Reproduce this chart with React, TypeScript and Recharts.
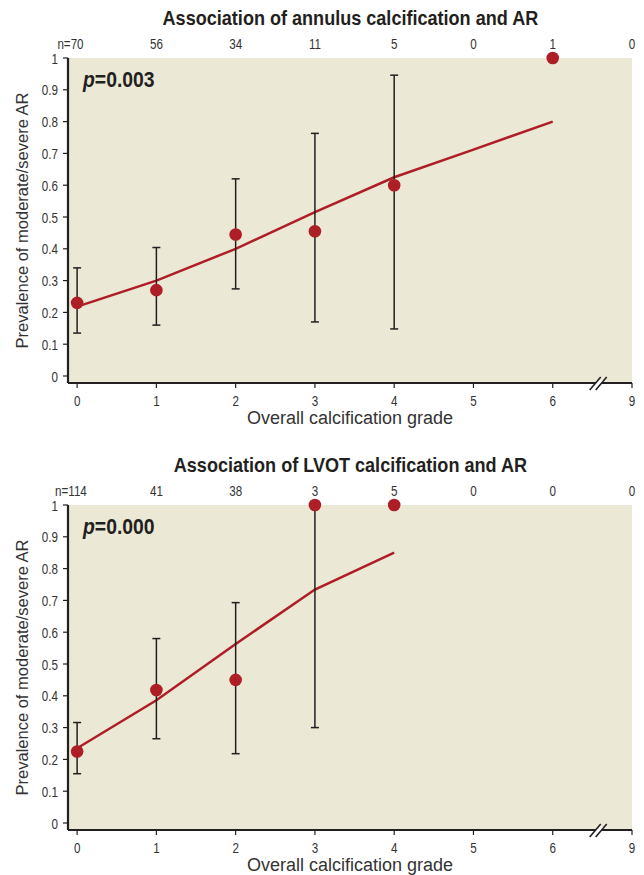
import React from 'react';
import { ComposedChart, CartesianGrid, ErrorBar, Line, ReferenceDot, Scatter, XAxis, YAxis } from 'recharts';

const SANS = "'Liberation Sans', Arial, sans-serif";
const SQUEEZE = 0.75;
const TICK_FS = 15.5;

const C = {
  bg: '#ECE8D6',
  red: '#AE1E26',
  axis: '#231F20',
  text: '#333333',
};

// x positions; position 7 is drawn as grade "9" after the axis break
const grades = [0, 1, 2, 3, 4, 5, 6, 7];
const gradeLabels = ['0', '1', '2', '3', '4', '5', '6', '9'];
const yTicks = [0, 0.1, 0.2, 0.3, 0.4, 0.5, 0.6, 0.7, 0.8, 0.9, 1];

// annulus
const annulusN = ['70', '56', '34', '11', '5', '0', '1', '0'];
const annulusObs = [0.23, 0.27, 0.445, 0.455, 0.6, null, 1, null];
const annulusLow = [0.135, 0.16, 0.274, 0.17, 0.148, null, null, null];
const annulusHigh = [0.34, 0.404, 0.62, 0.763, 0.946, null, null, null];
const annulusFit = [0.218, 0.3, 0.4, 0.515, 0.625, 0.712, 0.8, null];

// LVOT
const lvotN = ['114', '41', '38', '3', '5', '0', '0', '0'];
const lvotObs = [0.225, 0.418, 0.45, 1, 1, null, null, null];
const lvotLow = [0.155, 0.265, 0.218, 0.3, null, null, null, null];
const lvotHigh = [0.316, 0.58, 0.693, 1, null, null, null, null];
const lvotFit = [0.235, 0.386, 0.563, 0.734, 0.85, null, null, null];

const BREAK_AT = 6.58;

type Row = { x: number; obs: number | null; fit: number | null; err?: [number, number] };

function buildRows(obs: (number | null)[], low: (number | null)[], high: (number | null)[], fit: (number | null)[]): Row[] {
  return grades.map((x, i) => {
    const o = obs[i];
    const l = low[i];
    const h = high[i];
    return {
      x,
      obs: o,
      fit: fit[i],
      err: o != null && l != null && h != null ? [o - l, h - o] as [number, number] : undefined,
    };
  });
}

// condensed-looking text, since no condensed face is installed
function Squeezed({ x, y, anchor, dy, children }: { x: number; y: number; anchor: string; dy: string; children: React.ReactNode }) {
  return (
    <text
      transform={`translate(${x},${y}) scale(${SQUEEZE},1)`}
      textAnchor={anchor}
      dy={dy}
      fontSize={TICK_FS}
      fontFamily={SANS}
      fill={C.text}
    >
      {children}
    </text>
  );
}

function YTick(p: any) {
  return <Squeezed x={p.x} y={p.y} anchor="end" dy="0.36em">{String(Math.round(p.payload.value * 10) / 10)}</Squeezed>;
}

function XTick(p: any) {
  return <Squeezed x={p.x} y={p.y} anchor="middle" dy="0.72em">{gradeLabels[p.payload.value]}</Squeezed>;
}

function makeTopTick(nLabels: string[]) {
  return function TopTick(p: any) {
    const i = p.payload.value;
    const label = nLabels[i];
    if (i === 0) {
      // keep the number centred on its tick, "n=" hangs to the left
      const half = (label.length * 0.556 * TICK_FS * SQUEEZE) / 2;
      return <Squeezed x={p.x + half} y={p.y} anchor="end" dy="0">{`n=${label}`}</Squeezed>;
    }
    return <Squeezed x={p.x} y={p.y} anchor="middle" dy="0">{label}</Squeezed>;
  };
}

function Dot(p: any) {
  if (p.cx == null || p.cy == null) return null;
  return <circle cx={p.cx} cy={p.cy} r={6.3} fill={C.red} />;
}

function BreakMark(p: any) {
  const { cx, cy } = p;
  if (cx == null || cy == null) return null;
  return (
    <g>
      <polygon points={`${cx - 6},${cy + 3} ${cx},${cy + 3} ${cx + 6},${cy - 3} ${cx},${cy - 3}`} fill="#fff" />
      <line x1={cx - 9} y1={cy + 7} x2={cx + 2} y2={cy - 6} stroke={C.axis} strokeWidth={1.6} />
      <line x1={cx - 3} y1={cy + 7} x2={cx + 8} y2={cy - 6} stroke={C.axis} strokeWidth={1.6} />
    </g>
  );
}

function Panel({ title, pval, nLabels, rows, top }: { title: string; pval: string; nLabels: string[]; rows: Row[]; top: number }) {
  const pts = rows.filter((r) => r.obs != null);
  return (
    <div style={{ position: 'absolute', left: 0, top, width: 644, height: 440 }}>
      <div style={{ position: 'absolute', left: 68, top: 5, width: 564, textAlign: 'center', lineHeight: '26px' }}>
        <span
          style={{
            display: 'inline-block', transform: 'scaleX(0.86)', fontFamily: SANS, fontWeight: 'bold',
            fontSize: 21, color: C.axis, whiteSpace: 'nowrap',
          }}
        >
          {title}
        </span>
      </div>
      <ComposedChart width={644} height={428} data={rows} margin={{ top: 38, right: 12, bottom: 0, left: 0 }}>
        <CartesianGrid xAxisId="main" horizontal={false} vertical={false} fill={C.bg} />
        <XAxis
          xAxisId="top"
          orientation="top"
          dataKey="x"
          type="number"
          domain={[-0.115, 7]}
          ticks={grades}
          axisLine={false}
          tickLine={false}
          tickSize={5}
          tickMargin={4}
          height={20}
          tick={makeTopTick(nLabels)}
        />
        <XAxis
          xAxisId="main"
          dataKey="x"
          type="number"
          domain={[-0.115, 7]}
          ticks={grades}
          axisLine={{ stroke: C.axis, strokeWidth: 2.2 }}
          tickLine={{ stroke: C.axis, strokeWidth: 1.2 }}
          tickSize={5}
          tickMargin={7}
          height={45}
          tick={XTick}
          label={{ value: 'Overall calcification grade', position: 'insideBottom', offset: 4, style: { fontSize: 18, fontFamily: SANS, fill: C.text } }}
        />
        <YAxis
          type="number"
          domain={[-0.022, 1]}
          ticks={yTicks}
          axisLine={{ stroke: C.axis, strokeWidth: 2.2 }}
          tickLine={{ stroke: C.axis, strokeWidth: 1.2 }}
          tickSize={5}
          tickMargin={5}
          width={68}
          tick={YTick}
          label={{ value: 'Prevalence of moderate/severe AR', angle: -90, position: 'insideLeft', offset: 22, style: { textAnchor: 'middle', fontSize: 16.5, fontFamily: SANS, fill: C.text } }}
        />
        <Line xAxisId="main" type="linear" dataKey="fit" stroke={C.red} strokeWidth={2.5} dot={false} activeDot={false} isAnimationActive={false} />
        <Scatter xAxisId="main" data={pts} dataKey="obs" shape={Dot} isAnimationActive={false}>
          <ErrorBar dataKey="err" direction="y" width={4} stroke={C.axis} strokeWidth={1.5} isAnimationActive={false} />
        </Scatter>
        <ReferenceDot xAxisId="main" x={BREAK_AT} y={-0.022} r={0} ifOverflow="visible" shape={BreakMark} />
      </ComposedChart>
      <div
        style={{
          position: 'absolute', left: 83, top: 66, fontFamily: SANS, fontWeight: 'bold',
          fontSize: 22, color: C.axis, lineHeight: '28px', transform: 'scaleX(0.88)', transformOrigin: 'left center',
          whiteSpace: 'nowrap',
        }}
      >
        <i>p</i>={pval}
      </div>
    </div>
  );
}

export default function App() {
  return (
    <div style={{ position: 'absolute', left: 0, top: 0, width: 644, height: 875, background: '#fff', overflow: 'hidden' }}>
      <Panel
        title="Association of annulus calcification and AR"
        pval="0.003"
        nLabels={annulusN}
        rows={buildRows(annulusObs, annulusLow, annulusHigh, annulusFit)}
        top={0}
      />
      <Panel
        title="Association of LVOT calcification and AR"
        pval="0.000"
        nLabels={lvotN}
        rows={buildRows(lvotObs, lvotLow, lvotHigh, lvotFit)}
        top={447}
      />
    </div>
  );
}
